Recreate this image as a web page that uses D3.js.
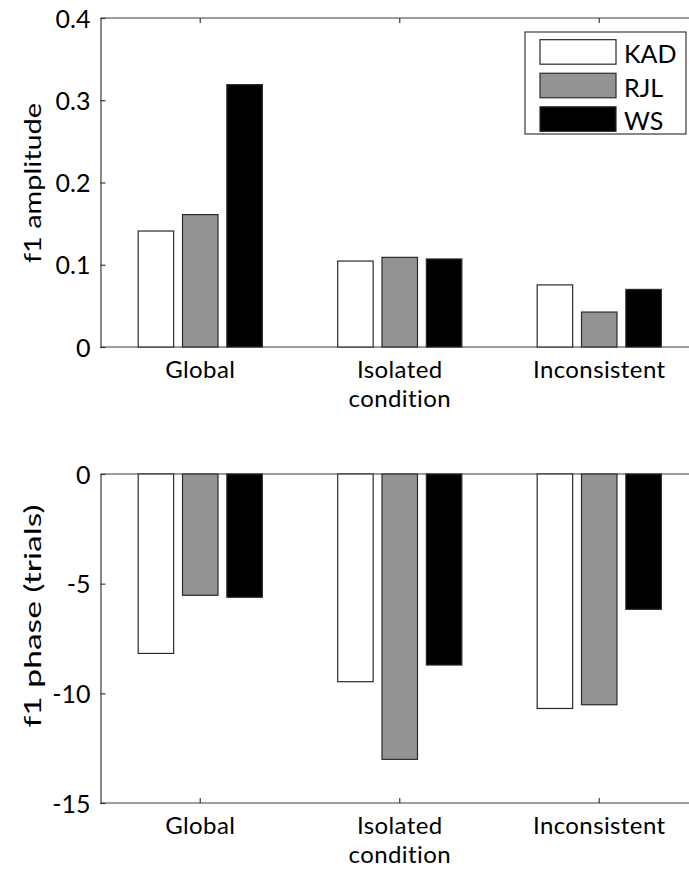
<!DOCTYPE html>
<html>
<head>
<meta charset="utf-8">
<script src="https://cdn.jsdelivr.net/npm/d3@7"></script>
<style>
  html, body { margin: 0; padding: 0; background: #fff; }
  svg { display: block; font-family: Lato, "Open Sans", sans-serif; }
</style>
</head>
<body>
<svg id="chart" width="689" height="872"></svg>
<script>
// Conditions along the x axis (second line of a label after "\n")
const categories = ["Global", "Isolated\ncondition", "Inconsistent"];
const observers = ["KAD", "RJL", "WS"];
const observerFill = ["#ffffff", "#939393", "#000000"];

// f1 amplitude per observer, one value per condition
const amplitudeKAD = [0.141, 0.1045, 0.0755];
const amplitudeRJL = [0.161, 0.109, 0.0425];
const amplitudeWS  = [0.319, 0.107, 0.070];

// f1 phase (trials) per observer, one value per condition
const phaseKAD = [-8.18, -9.47, -10.69];
const phaseRJL = [-5.53, -13.01, -10.52];
const phaseWS  = [-5.62, -8.71, -6.17];

const amplitudeTicks = [0, 0.1, 0.2, 0.3, 0.4];
const phaseTicks = [-15, -10, -5, 0];

const svg = d3.select("#chart");
const axisColor = "#3a3a3a";
const fontFamily = "Lato, 'Open Sans', sans-serif";

// Shared category scale: positions 1..3 with half a unit of margin each side
const x = d3.scaleLinear().domain([0.5, 3.5]).range([100.5, 699]);
const nGroups = observers.length;
const groupWidth = Math.min(0.8, nGroups / (nGroups + 1.5));
const step = groupWidth / nGroups;
const barWidth = 0.8 * step;
const offsetOf = j => (j - (nGroups - 1) / 2) * step;

function panel(opts) {
  const { y, series, ticks, fmt, label, labelCenter, labelLength, baselineY, labelTop } = opts;
  const g = svg.append("g");
  const [y0, y1] = y.range();

  // axes box: top and bottom edges; the right edge sits beyond the canvas
  g.append("line").attr("x1", x(0.5)).attr("x2", x(3.5)).attr("y1", y1).attr("y2", y1)
    .attr("stroke", axisColor).attr("stroke-width", 1.2);
  g.append("line").attr("x1", x(0.5)).attr("x2", x(3.5)).attr("y1", y0).attr("y2", y0)
    .attr("stroke", axisColor).attr("stroke-width", 1.2);

  // category ticks on top and bottom edges, pointing inward
  [1, 2, 3].forEach(c => {
    g.append("line").attr("x1", x(c)).attr("x2", x(c)).attr("y1", y1).attr("y2", y1 + 5)
      .attr("stroke", axisColor).attr("stroke-width", 1.2);
    g.append("line").attr("x1", x(c)).attr("x2", x(c)).attr("y1", y0).attr("y2", y0 - 5)
      .attr("stroke", axisColor).attr("stroke-width", 1.2);
  });

  // bars
  series.forEach((vals, j) => {
    g.selectAll(null).data(vals).enter().append("rect")
      .attr("x", (d, i) => x(i + 1 + offsetOf(j) - barWidth / 2))
      .attr("width", (d, i) => x(i + 1 + offsetOf(j) + barWidth / 2) - x(i + 1 + offsetOf(j) - barWidth / 2))
      .attr("y", d => Math.min(y(0), y(d)))
      .attr("height", d => Math.abs(y(d) - y(0)))
      .attr("fill", observerFill[j])
      .attr("stroke", "#2a2a2a")
      .attr("stroke-width", 1.2);
  });

  // y axis
  const yAxis = d3.axisLeft(y).tickValues(ticks).tickFormat(fmt)
    .tickSize(-5).tickSizeOuter(0).tickPadding(10);
  const ya = g.append("g").attr("transform", `translate(${x(0.5)},0)`).call(yAxis);
  ya.select(".domain").attr("stroke", axisColor).attr("stroke-width", 1.2);
  ya.selectAll(".tick line").attr("stroke", axisColor).attr("stroke-width", 1.2);
  ya.selectAll(".tick text").attr("font-size", 25).attr("fill", "#000")
    .attr("font-family", fontFamily).attr("dy", "0.36em");

  // category labels, one text element per line
  categories.forEach((c, i) => {
    c.split("\n").forEach((ln, k) => {
      g.append("text").attr("x", x(i + 1)).attr("y", labelTop + k * 29)
        .attr("text-anchor", "middle").attr("font-size", 24)
        .attr("letter-spacing", 0.4).attr("fill", "#000")
        .text(ln);
    });
  });

  // y label
  g.append("text")
    .attr("transform", `translate(${baselineY},${labelCenter}) rotate(-90)`)
    .attr("text-anchor", "middle")
    .attr("font-size", 23)
    .attr("textLength", labelLength)
    .attr("lengthAdjust", "spacingAndGlyphs")
    .attr("fill", "#000")
    .text(label);
}

const yAmp = d3.scaleLinear().domain([0, 0.4]).range([347, 18]);
panel({
  y: yAmp,
  series: [amplitudeKAD, amplitudeRJL, amplitudeWS],
  ticks: amplitudeTicks,
  fmt: d => d === 0 ? "0" : d3.format(".1f")(d),
  label: "f1 amplitude",
  labelCenter: 183,
  labelLength: 160,
  baselineY: 41,
  labelTop: 378
});

const yPhase = d3.scaleLinear().domain([-15, 0]).range([803, 474]);
panel({
  y: yPhase,
  series: [phaseKAD, phaseRJL, phaseWS],
  ticks: phaseTicks,
  fmt: d => String(d),
  label: "f1 phase (trials)",
  labelCenter: 616,
  labelLength: 223,
  baselineY: 41,
  labelTop: 834
});

// legend
const legend = svg.append("g");
legend.append("rect").attr("x", 525).attr("y", 32).attr("width", 161).attr("height", 102)
  .attr("fill", "#fff").attr("stroke", "#3a3a3a").attr("stroke-width", 1.2);
const legendY = d3.scaleBand().domain(observers).range([39, 132]).paddingInner(0.27).paddingOuter(0.02);
observers.forEach((name, j) => {
  legend.append("rect").attr("x", 540).attr("y", legendY(name))
    .attr("width", 76).attr("height", legendY.bandwidth())
    .attr("fill", observerFill[j]).attr("stroke", "#2a2a2a").attr("stroke-width", 1.2);
  legend.append("text").attr("x", 624).attr("y", legendY(name) + legendY.bandwidth() - 1)
    .attr("font-size", 25).attr("fill", "#000").text(name);
});
</script>
</body>
</html>
